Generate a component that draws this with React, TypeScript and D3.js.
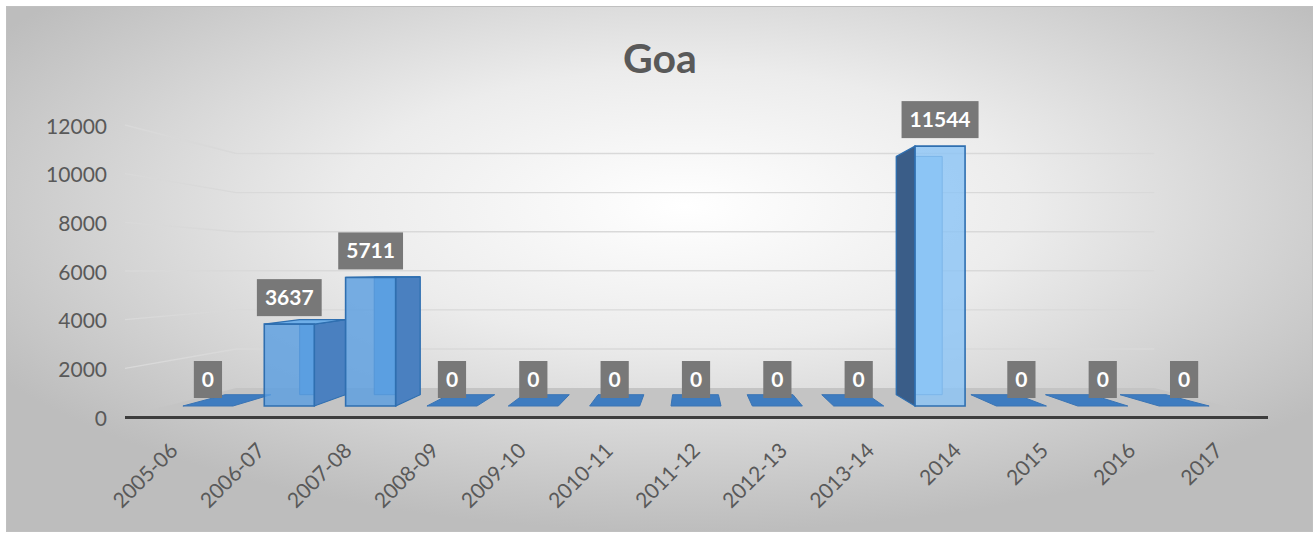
import React from "react";
import * as d3 from "d3";

const categories = ["2005-06", "2006-07", "2007-08", "2008-09", "2009-10", "2010-11", "2011-12", "2012-13", "2013-14", "2014", "2015", "2016", "2017"];
const values = [0, 3637, 5711, 0, 0, 0, 0, 0, 0, 11544, 0, 0, 0];
const yTicks = [0, 2000, 4000, 6000, 8000, 10000, 12000];
const title = "Goa";

const W = 1315;
const H = 534;
const VP = { x: 690, y: 270 };
const K = 0.245;
const Z0 = 0.33;
const Z1 = 0.73;
const FONT = "Lato, 'Open Sans', sans-serif";

const x = d3.scaleBand<string>().domain(categories).range([125, 1268]).paddingInner(0.385).paddingOuter(0.1925);
const xStep = d3.scaleBand<string>().domain(categories).range([125, 1268]);
const y = d3.scaleLinear().domain([0, 12000]).range([417, 125]);

function proj(X: number, Y: number, z: number): [number, number] {
  const s = 1 / (1 + K * z);
  return [VP.x + (X - VP.x) * s, VP.y + (Y - VP.y) * s];
}
const path = (pts: [number, number][]) => "M" + pts.map((p) => p[0].toFixed(2) + "," + p[1].toFixed(2)).join("L") + "Z";

export default function App() {
  const X0 = 125, X1 = 1268;
  const floor = path([proj(X0, y(0), 0), proj(X1, y(0), 0), proj(X1, y(0), 1), proj(X0, y(0), 1)]);
  const grid = yTicks.filter((t) => t > 0).map((t) => {
    const a = proj(X0, y(t), 0);
    const b = proj(X0, y(t), 1);
    const c = proj(X1, y(t), 1);
    return { t, d: `M${a[0]},${a[1]}L${b[0]},${b[1]}L${c[0]},${c[1]}` };
  });

  return (
    <svg width={W} height={H} style={{ position: "absolute", left: 0, top: 0 }}>
      <defs>
        <radialGradient id="bg" cx="0.52" cy="0.38" r="0.62">
          <stop offset="0" stopColor="#ffffff" />
          <stop offset="0.42" stopColor="#ececec" />
          <stop offset="1" stopColor="#bdbdbd" />
        </radialGradient>
      </defs>
      <rect x={0} y={0} width={W} height={H} fill="#ffffff" />
      <rect x={6.5} y={6.5} width={1306} height={525} fill="url(#bg)" stroke="#c0c0c0" strokeWidth={1} />
      <text x={660} y={73} textAnchor="middle" fontFamily={FONT} fontWeight={700} fontSize={41} fill="#595959">{title}</text>

      {grid.map((g) => (
        <path key={g.t} d={g.d} fill="none" stroke="#d9d9d9" strokeWidth={1.4} />
      ))}
      <path d={floor} fill="#c4c4c4" />
      <line x1={X0} x2={X1} y1={y(0) + 0.5} y2={y(0) + 0.5} stroke="#3d3d3d" strokeWidth={3} />

      {yTicks.map((t) => (
        <text key={t} x={107} y={y(t)} textAnchor="end" dominantBaseline="central" fontFamily={FONT} fontSize={21} fill="#595959">{t}</text>
      ))}

      {categories.map((c, i) => {
        const v = values[i];
        const xa = x(c)!;
        const xb = xa + x.bandwidth();
        const yb = y(0);
        const yt = y(v);
        const F = [proj(xa, yt, Z0), proj(xb, yt, Z0), proj(xb, yb, Z0), proj(xa, yb, Z0)];
        const B = [proj(xa, yt, Z1), proj(xb, yt, Z1), proj(xb, yb, Z1), proj(xa, yb, Z1)];
        const rightSide = (xa + xb) / 2 > VP.x;
        const frontFill = rightSide ? "#8cc5f5" : "#5c9fe0";
        const sideFill = rightSide ? "#3a5d88" : "#4a80c0";
        const edge = "#2f6fb0";
        const elems: React.ReactNode[] = [];
        if (v === 0) {
          elems.push(<path key="flat" d={path([F[2], F[3], B[3], B[2]])} fill="#3e7cc0" stroke="#3a74b4" strokeWidth={1} />);
        } else {
          elems.push(<path key="back" d={path(B)} fill={frontFill} stroke={edge} strokeWidth={1} />);
          if (xb < VP.x) elems.push(<path key="rs" d={path([F[1], B[1], B[2], F[2]])} fill={sideFill} stroke={edge} strokeWidth={1.2} />);
          if (xa > VP.x) elems.push(<path key="ls" d={path([F[0], B[0], B[3], F[3]])} fill={sideFill} stroke={edge} strokeWidth={1.2} />);
          if (yt > VP.y) elems.push(<path key="top" d={path([F[0], F[1], B[1], B[0]])} fill="#6eaee8" stroke={edge} strokeWidth={1.2} />);
          elems.push(<path key="front" d={path(F)} fill={frontFill} fillOpacity={0.82} stroke={edge} strokeWidth={1.6} />);
        }
        const label = String(v);
        const tw = label.length * 12.2;
        const bw = tw + 16;
        const bh = 37;
        const cx = (F[0][0] + F[1][0]) / 2;
        const bottom = F[0][1] - 8;
        const lp = proj(xStep(c)! + xStep.bandwidth() / 2, y(0), 0.04);
        return (
          <g key={c}>
            {elems}
            <rect x={cx - bw / 2} y={bottom - bh} width={bw} height={bh} fill="#787878" />
            <text x={cx} y={bottom - 11} textAnchor="middle" fontFamily={FONT} fontWeight={700} fontSize={21} fill="#ffffff">{label}</text>
            <text transform={`translate(${lp[0] + 5},${452}) rotate(-45)`} textAnchor="end" fontFamily={FONT} fontSize={21} fill="#595959">{c}</text>
          </g>
        );
      })}
    </svg>
  );
}
